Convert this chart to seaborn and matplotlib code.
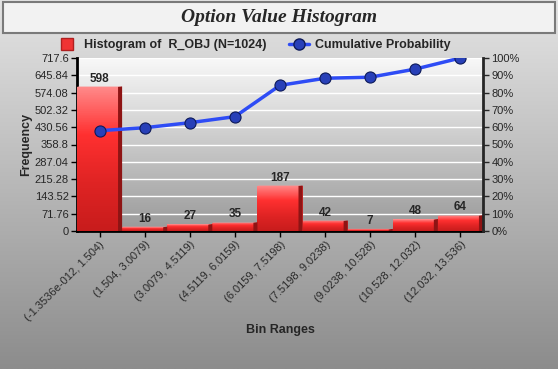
import matplotlib
matplotlib.use("Agg")
import matplotlib.pyplot as plt
import numpy as np
import pandas as pd
import seaborn as sns
from matplotlib.colors import LinearSegmentedColormap
from matplotlib.patches import Rectangle, Polygon
from matplotlib.lines import Line2D

bins = ["(-1.3536e-012, 1.504)", "(1.504, 3.0079)", "(3.0079, 4.5119)",
        "(4.5119, 6.0159)", "(6.0159, 7.5198)", "(7.5198, 9.0238)",
        "(9.0238, 10.528)", "(10.528, 12.032)", "(12.032, 13.536)"]
counts = [598, 16, 27, 35, 187, 42, 7, 48, 64]
cum_pct = [58.0, 59.7, 62.6, 66.1, 84.2, 88.3, 88.9, 93.6, 100.0]
freq_ticks = [0, 71.76, 143.52, 215.28, 287.04, 358.8, 430.56, 502.32, 574.08, 645.84, 717.6]
freq_labels = ["0", "71.76", "143.52", "215.28", "287.04", "358.8", "430.56",
               "502.32", "574.08", "645.84", "717.6"]
pct_ticks = list(range(0, 101, 10))

df = pd.DataFrame({"bin": bins, "count": counts, "cum": cum_pct})

sns.set_style("white")
plt.rcParams["font.family"] = ["Liberation Sans", "DejaVu Sans"]

fig = plt.figure(figsize=(5.58, 3.69), dpi=100)

# figure background gradient
bg = fig.add_axes([0, 0, 1, 1], zorder=-10)
grad = np.linspace(0, 1, 256).reshape(-1, 1)
bg.imshow(grad, aspect="auto", cmap=LinearSegmentedColormap.from_list(
    "bg", ["#e4e4e4", "#8c8c8c"]), extent=[0, 1, 0, 1], origin="upper")
bg.set_xlim(0, 1)
bg.set_ylim(0, 1)
bg.axis("off")

# title box
bg.add_patch(Rectangle((3 / 558, 1 - 33 / 369), 552 / 558, 31 / 369,
                       facecolor="#f2f2f2", edgecolor="#7a7a7a", lw=1.5))
bg.text(0.5, 1 - 17 / 369, "Option Value Histogram", ha="center", va="center",
        fontsize=14, fontweight="bold", fontstyle="italic",
        family=["Liberation Serif", "DejaVu Serif"])

ax = fig.add_axes([77 / 558, 1 - 231 / 369, 406 / 558, 173 / 369])
ax.set_facecolor("none")
# plot area gradient
ax.imshow(grad, aspect="auto", cmap=LinearSegmentedColormap.from_list(
    "pa", ["#f8f8f8", "#999999"]), extent=[-0.5, 8.5, 0, 717.6], origin="upper", zorder=0)

sns.barplot(data=df, x="bin", y="count", ax=ax, color="#f03434", width=1.0,
            saturation=1, edgecolor="none", zorder=3)

bar_cmap = LinearSegmentedColormap.from_list("bar", ["#ff8a8a", "#ff3030", "#e02424", "#c81c1c"])
for p, v in zip(ax.patches, counts):
    x0, w, h = p.get_x(), p.get_width(), p.get_height()
    side = w * 0.09
    cap = 6
    img = ax.imshow(np.linspace(0, 1, 64).reshape(-1, 1), aspect="auto", cmap=bar_cmap,
                    extent=[x0, x0 + w - side, 0, h], origin="upper", zorder=3.5)
    img.set_clip_path(p)
    # dark right side with slanted top
    ax.add_patch(Polygon([(x0 + w - side, 0), (x0 + w, 0), (x0 + w, h + cap * 0.3),
                          (x0 + w - side, h)], closed=True,
                         facecolor="#8e1414", edgecolor="none", zorder=4))
    # lighter top cap
    ax.add_patch(Polygon([(x0, h), (x0 + w - side, h), (x0 + w, h + cap * 0.3),
                          (x0 + side * 0.3, h + cap * 0.3)], closed=True,
                         facecolor="#ff9090", edgecolor="none", zorder=4))
    ax.text(x0 + w / 2, h + 9, str(v), ha="center", va="bottom",
            fontsize=8.5, fontweight="bold", zorder=6)

ax.set_xlim(-0.5, 8.5)
ax.set_ylim(0, 717.6)
ax.set_yticks(freq_ticks)
ax.set_yticklabels(freq_labels, fontsize=8)
for t in freq_ticks[1:]:
    ax.axhline(t, color="white", lw=1, zorder=1)
ax.set_xticks(range(len(bins)))
ax.set_xticklabels(bins, rotation=45, ha="right", rotation_mode="anchor",
                   fontsize=8, color="#2a2a2a")
ax.tick_params(axis="both", length=4, width=1, color="black", direction="out",
               left=True, bottom=True, pad=2)
ax.set_ylabel("Frequency", fontsize=9, fontweight="bold", labelpad=2)
ax.set_xlabel("Bin Ranges", fontsize=9, fontweight="bold", labelpad=1)
for s in ["top", "right"]:
    ax.spines[s].set_visible(False)
for s in ["left", "bottom"]:
    ax.spines[s].set_linewidth(2)
    ax.spines[s].set_color("black")

ax2 = ax.twinx()
sns.lineplot(data=df, x="bin", y="cum", ax=ax2, color="#2e4cf5", lw=2.5,
             marker="o", markersize=8, markerfacecolor="#2840b8",
             markeredgecolor="#0d1a5a", markeredgewidth=0.8, zorder=5)
ax2.set_ylim(0, 100)
ax2.set_yticks(pct_ticks)
ax2.set_yticklabels([f"{t}%" for t in pct_ticks], fontsize=8)
ax2.set_ylabel("")
ax2.tick_params(axis="y", length=4, width=1, direction="out", right=True, pad=2)
for s in ["top", "left", "bottom"]:
    ax2.spines[s].set_visible(False)
ax2.spines["right"].set_linewidth(2)

handles = [Line2D([], [], marker="s", ls="none", markersize=8,
                  markerfacecolor="#f03434", markeredgecolor="#b02020"),
           Line2D([], [], color="#2e4cf5", lw=2.5, marker="o", markersize=8,
                  markerfacecolor="#2840b8", markeredgecolor="#0d1a5a")]
fig.legend(handles, ["Histogram of  R_OBJ (N=1024)", "Cumulative Probability"],
           loc="center", bbox_to_anchor=(254 / 558, 1 - 45 / 369), ncol=2,
           frameon=False, prop={"weight": "bold", "size": 9},
           columnspacing=1.8, handletextpad=0.5, handlelength=1.6)

fig.savefig("out.png", dpi=100)
